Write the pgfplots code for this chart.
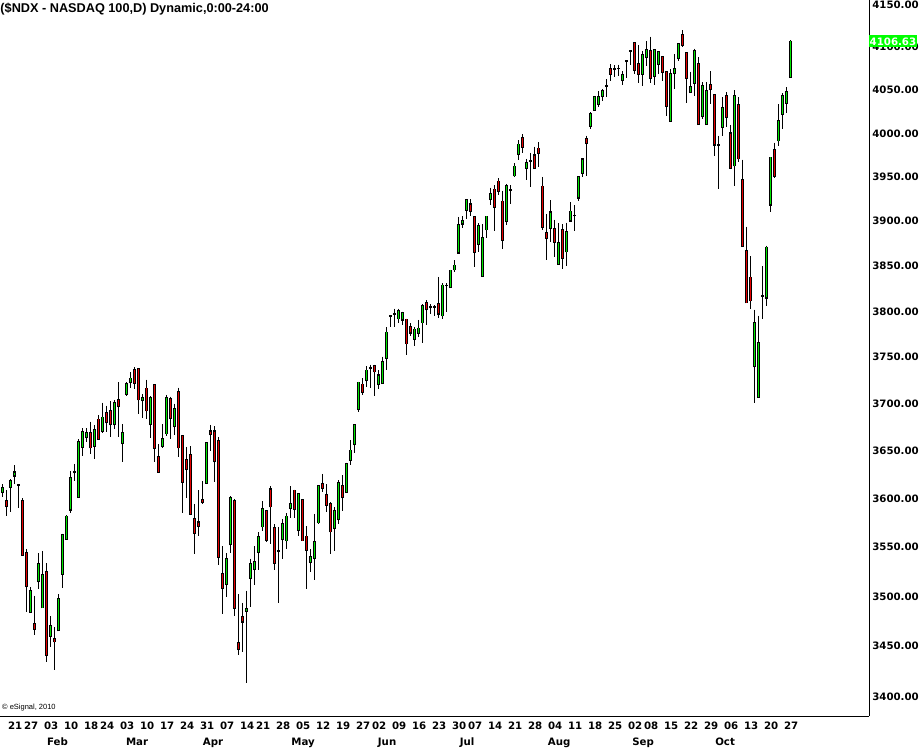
\documentclass[border=0pt]{standalone}
\usepackage{fontspec}
\setmainfont{Liberation Sans}
\newfontfamily\axisfont{DejaVu Sans}
\usepackage{pgfplots}
\usepackage{pgfplotstable}
\pgfplotsset{compat=1.18}
\definecolor{cgreen}{RGB}{0,230,0}
\definecolor{cred}{RGB}{230,0,0}
\definecolor{lblgreen}{RGB}{0,255,0}
\pgfplotstableread{
x o h l c
0 3606.5 3615.2 3601.3 3610.7
1 3597.5 3608.9 3581.3 3592.0
2 3612.4 3620.1 3586.5 3618.0
3 3623.9 3635.0 3615.2 3627.4
4 3614.2 3615.0 3590.0 3614.2
5 3597.5 3600.3 3541.0 3542.0
6 3543.7 3548.1 3483.6 3510.2
7 3484.3 3509.5 3483.3 3505.5
8 3472.3 3500.4 3461.6 3467.6
9 3515.3 3543.7 3507.8 3532.6
10 3488.6 3546.1 3488.0 3521.7
11 3524.4 3533.6 3433.8 3441.1
12 3460.6 3480.3 3449.6 3470.0
13 3457.0 3469.0 3426.6 3454.6
14 3465.6 3502.4 3465.0 3497.0
15 3523.0 3563.8 3508.8 3562.2
16 3558.7 3582.8 3558.0 3581.7
17 3588.5 3628.8 3585.4 3621.2
18 3627.4 3636.1 3618.6 3627.4
19 3601.9 3662.3 3601.3 3659.5
20 3653.9 3674.0 3644.4 3669.8
21 3664.5 3674.0 3659.2 3668.7
22 3669.0 3680.7 3646.5 3653.6
23 3655.2 3677.2 3641.3 3671.9
24 3683.2 3687.4 3661.3 3662.7
25 3670.8 3701.2 3669.0 3685.3
26 3689.9 3698.0 3669.8 3680.0
27 3692.0 3702.3 3664.8 3677.9
28 3678.0 3704.0 3673.3 3700.5
29 3703.7 3722.7 3664.8 3697.0
30 3657.8 3677.9 3638.5 3668.7
31 3710.5 3723.0 3707.7 3720.9
32 3722.7 3733.7 3716.3 3727.0
33 3735.9 3739.4 3715.8 3721.6
34 3737.0 3738.0 3688.5 3704.5
35 3703.4 3709.9 3684.9 3706.6
36 3716.3 3725.9 3683.2 3692.3
37 3678.0 3708.0 3663.1 3706.6
38 3719.8 3720.6 3637.9 3652.5
39 3643.1 3657.1 3627.0 3628.0
40 3654.6 3677.9 3653.6 3662.0
41 3668.4 3709.1 3665.9 3706.6
42 3705.3 3707.4 3662.0 3684.3
43 3675.9 3700.1 3666.9 3694.1
44 3712.0 3717.3 3643.7 3653.6
45 3665.2 3666.3 3585.4 3617.6
46 3640.0 3653.9 3600.9 3630.6
47 3645.2 3655.0 3583.0 3583.8
48 3578.6 3594.4 3543.3 3564.2
49 3575.5 3608.9 3560.7 3572.0
50 3598.5 3618.3 3594.1 3596.1
51 3616.6 3659.3 3614.9 3658.2
52 3670.5 3677.2 3650.0 3667.3
53 3670.5 3676.2 3617.6 3638.9
54 3660.2 3664.5 3532.1 3539.7
55 3522.7 3551.1 3482.6 3508.2
56 3512.2 3543.7 3499.6 3537.6
57 3552.9 3602.4 3544.3 3600.3
58 3597.5 3599.5 3480.0 3488.0
59 3453.0 3502.4 3441.1 3447.0
60 3479.3 3493.3 3444.1 3474.6
61 3485.0 3505.5 3414.1 3487.0
62 3518.3 3538.2 3489.6 3532.6
63 3527.5 3551.1 3511.5 3534.6
64 3544.7 3565.6 3526.1 3560.1
65 3571.0 3597.5 3566.9 3588.9
66 3587.5 3588.0 3555.3 3557.6
67 3609.6 3613.4 3553.5 3591.6
68 3569.4 3573.5 3526.1 3533.4
69 3546.4 3570.7 3493.3 3546.4
70 3558.0 3578.9 3538.2 3573.5
71 3557.0 3585.1 3548.4 3581.7
72 3590.6 3613.1 3580.3 3594.1
73 3608.6 3609.6 3579.3 3588.9
74 3567.3 3605.5 3560.7 3604.5
75 3598.5 3599.2 3556.5 3557.0
76 3561.1 3571.4 3506.8 3546.8
77 3534.6 3547.8 3525.0 3539.7
78 3538.6 3584.1 3516.9 3555.0
79 3575.5 3613.0 3573.5 3612.8
80 3614.9 3625.6 3606.5 3611.3
81 3603.8 3614.9 3586.5 3593.7
82 3594.1 3596.5 3543.3 3565.9
83 3569.4 3591.0 3546.4 3586.9
84 3578.6 3619.0 3573.5 3615.9
85 3612.8 3624.3 3586.9 3601.3
86 3606.5 3637.4 3606.0 3635.8
87 3640.0 3661.0 3634.7 3650.4
88 3656.8 3677.9 3647.3 3676.9
89 3693.8 3723.3 3691.3 3722.7
90 3720.6 3727.0 3709.1 3712.7
91 3724.8 3740.2 3717.9 3735.6
92 3738.4 3742.0 3716.9 3738.4
93 3740.9 3742.0 3708.4 3734.5
94 3720.6 3735.6 3715.8 3730.2
95 3721.6 3750.9 3720.9 3744.5
96 3749.1 3782.5 3736.6 3776.7
97 3794.7 3795.5 3782.8 3794.7
98 3796.9 3802.8 3783.2 3796.9
99 3791.9 3802.8 3786.8 3800.2
100 3790.8 3799.8 3785.4 3798.4
101 3790.8 3791.5 3752.8 3764.7
102 3782.8 3787.1 3772.3 3776.7
103 3769.7 3782.8 3762.1 3780.0
104 3776.3 3790.1 3771.9 3781.0
105 3787.6 3807.5 3765.4 3805.3
106 3809.4 3812.0 3784.6 3802.0
107 3803.9 3807.5 3796.6 3803.9
108 3805.0 3806.4 3795.2 3805.0
109 3807.5 3837.6 3792.2 3797.3
110 3795.5 3830.4 3791.9 3828.5
111 3828.5 3830.4 3799.1 3828.5
112 3826.0 3845.5 3824.9 3845.0
113 3845.8 3856.0 3843.1 3850.5
114 3864.7 3904.5 3864.0 3895.2
115 3897.1 3905.3 3892.6 3900.0
116 3912.9 3924.5 3901.9 3923.4
117 3918.9 3924.5 3905.6 3911.3
118 3904.5 3904.6 3848.7 3865.4
119 3874.3 3897.1 3864.7 3894.1
120 3838.7 3896.3 3838.1 3880.7
121 3890.4 3905.5 3881.0 3905.3
122 3924.9 3938.1 3918.1 3930.2
123 3935.5 3940.4 3888.8 3915.8
124 3944.9 3948.6 3929.0 3933.9
125 3922.3 3934.7 3868.1 3879.2
126 3900.0 3942.3 3895.2 3940.0
127 3934.4 3940.4 3919.7 3934.4
128 3951.7 3965.8 3949.7 3962.0
129 3976.1 3991.8 3969.7 3986.8
130 3994.8 3998.6 3977.4 3984.5
131 3960.0 3970.8 3946.0 3966.0
132 3968.1 3978.0 3938.4 3968.1
133 3974.2 3984.9 3958.6 3959.7
134 3982.3 3989.5 3961.2 3977.2
135 3939.2 3949.7 3890.4 3893.3
136 3887.0 3908.3 3856.1 3881.0
137 3892.2 3923.4 3876.6 3909.8
138 3891.5 3901.6 3859.8 3876.6
139 3852.0 3897.1 3851.3 3875.1
140 3890.4 3896.3 3846.5 3858.7
141 3865.8 3898.2 3849.8 3888.2
142 3900.8 3921.9 3899.7 3910.6
143 3906.1 3917.7 3888.8 3906.1
144 3926.4 3950.5 3922.6 3950.2
145 3954.3 3970.2 3949.7 3970.0
146 3994.0 3997.5 3951.7 3988.7
147 4008.2 4023.8 4004.4 4021.8
148 4026.4 4042.7 4025.6 4041.5
149 4033.7 4048.1 4030.3 4041.5
150 4042.1 4050.8 4037.2 4048.5
151 4054.1 4062.3 4041.3 4054.1
152 4074.0 4080.1 4060.5 4068.7
153 4074.0 4078.9 4064.6 4074.0
154 4074.9 4079.5 4066.0 4074.9
155 4061.0 4071.6 4055.8 4066.9
156 4083.3 4084.0 4064.1 4083.3
157 4095.7 4096.5 4079.3 4095.7
158 4104.5 4105.7 4068.4 4072.7
159 4079.8 4102.5 4058.3 4068.0
160 4068.7 4095.7 4054.6 4090.3
161 4087.9 4107.2 4078.1 4096.2
162 4095.0 4112.3 4057.5 4063.3
163 4065.7 4096.5 4055.5 4096.2
164 4079.8 4094.2 4068.4 4093.9
165 4088.3 4089.5 4060.5 4071.1
166 4070.4 4071.9 4019.8 4031.4
167 4014.0 4073.9 4013.3 4068.4
168 4069.2 4091.5 4050.4 4073.9
169 4086.7 4104.0 4083.5 4103.7
170 4114.4 4120.3 4100.5 4102.2
171 4092.7 4093.0 4034.9 4063.3
172 4047.0 4071.1 4045.8 4052.8
173 4057.5 4098.3 4042.7 4095.4
174 4079.8 4087.9 4009.0 4009.9
175 4019.1 4058.7 4016.4 4054.0
176 4009.9 4058.7 4009.1 4048.1
177 4055.1 4071.6 4033.0 4051.1
178 4043.5 4044.6 3974.2 3986.8
179 3986.8 3997.5 3936.2 3986.8
180 4006.4 4041.2 3997.1 4028.4
181 4042.3 4047.0 4006.4 4018.0
182 3999.4 4009.1 3960.0 3960.5
183 3962.8 4049.3 3939.6 4042.3
184 4031.9 4041.2 3966.9 3970.8
185 3946.8 3969.7 3872.0 3872.5
186 3867.0 3893.7 3809.0 3809.4
187 3837.0 3860.2 3802.8 3811.6
188 3739.9 3801.7 3701.2 3786.5
189 3707.2 3795.2 3705.5 3765.8
190 3816.7 3849.1 3791.5 3816.7
191 3814.9 3872.9 3805.7 3870.3
192 3918.5 3972.3 3910.2 3972.0
193 3981.1 3989.1 3948.6 3950.9
194 3991.4 4033.0 3985.7 4013.3
195 4021.5 4045.8 4004.8 4042.3
196 4034.2 4052.8 4022.6 4047.0
197 4064.5 4108.4 4064.0 4106.63
}\data
% build candle segment lists from the table (x = nan separates the candles)
\def\wickpath{}\def\outpath{}\def\uppath{}\def\dnpath{}
\pgfplotsforeachungrouped \i in {0,...,197}{%
  \pgfplotstablegetelem{\i}{o}\of\data \let\vo\pgfplotsretval
  \pgfplotstablegetelem{\i}{h}\of\data \let\vh\pgfplotsretval
  \pgfplotstablegetelem{\i}{l}\of\data \let\vl\pgfplotsretval
  \pgfplotstablegetelem{\i}{c}\of\data \let\vc\pgfplotsretval
  \pgfmathsetmacro\vlo{min(\vo,\vc)/1.00026}%
  \pgfmathsetmacro\vhi{max(\vo,\vc)*1.00026}%
  \xdef\wickpath{\wickpath (\i,\vh) (\i,\vl) (nan,\vl)}%
  \xdef\outpath{\outpath (\i,\vlo) (\i,\vhi) (nan,\vhi)}%
  \ifdim\vc pt>\vo pt \xdef\uppath{\uppath (\i,\vo) (\i,\vc) (nan,\vc)}\fi
  \ifdim\vc pt<\vo pt \xdef\dnpath{\dnpath (\i,\vc) (\i,\vo) (nan,\vo)}\fi
}
\begin{document}
\begin{tikzpicture}
\useasboundingbox (0,0) rectangle (921pt,-750pt);
\begin{axis}[
  at={(0pt,0pt)}, anchor=north west,
  scale only axis, width=869pt, height=716pt,
  xmin=-0.575, xmax=216.675,
  y coord trafo/.code={\pgfmathparse{ln(#1)}},
  y coord inv trafo/.code={\pgfmathparse{exp(#1)}},
  ymin=3381.4, ymax=4156,
  clip=false,
  unbounded coords=jump,
  axis x line=bottom, axis y line=right,
  axis line style={-, black, line width=1pt},
  tick style={draw=none},
  ytick={3400,3450,3500,3550,3600,3650,3700,3750,3800,3850,3900,3950,4000,4050,4100,4150},
  yticklabels={3400.00,3450.00,3500.00,3550.00,3600.00,3650.00,3700.00,3750.00,3800.00,3850.00,3900.00,3950.00,4000.00,4050.00,4100.00,4150.00},
  yticklabel style={anchor=west, inner sep=0pt, xshift=1pt, font=\axisfont\bfseries\fontsize{10.2}{12}\selectfont},
  xtick={3,7,12,17,22,26,31,36,41,46,51,56,61,65,70,75,80,85,90,94,99,104,109,114,118,123,128,133,138,143,148,153,158,162,167,172,177,182,187,192,197},
  xticklabels={21,27,03,10,18,24,03,10,17,24,31,07,14,21,28,05,12,19,27,02,09,16,23,30,07,14,21,28,04,11,18,25,02,08,15,22,29,06,13,20,27},
  xticklabel style={anchor=base, inner sep=0pt, yshift=-11.8pt, xshift=0.8pt, font=\axisfont\bfseries\fontsize{10.2}{12}\selectfont},
  extra x ticks={13.8,33.7,52.7,75.2,96.2,116.2,139.2,160.2,180.7},
  extra x tick labels={Feb,Mar,Apr,May,Jun,Jul,Aug,Sep,Oct},
  extra x tick style={xticklabel style={yshift=-15.7pt, xshift=-0.8pt}},
]
\edef\tmp{\noexpand\addplot[black, line width=1pt, forget plot] coordinates {\wickpath};}\tmp
\edef\tmp{\noexpand\addplot[black, line width=3.3pt, forget plot] coordinates {\outpath};}\tmp
\edef\tmp{\noexpand\addplot[cgreen, line width=1.3pt, forget plot] coordinates {\uppath};}\tmp
\edef\tmp{\noexpand\addplot[cred, line width=1.3pt, forget plot] coordinates {\dnpath};}\tmp
\node[anchor=west, fill=lblgreen, text=white, inner xsep=0.5pt, inner ysep=0pt, minimum height=12pt,
  font=\axisfont\bfseries\fontsize{10.2}{12}\selectfont] at (axis cs:216.675,4106.63) {4106.63};
\end{axis}
\node[anchor=base west, inner sep=0pt, font=\bfseries\fontsize{12.7}{14}\selectfont] at (0.3pt,-12pt) {(\$NDX - NASDAQ 100,D) Dynamic,0:00-24:00};
\node[anchor=base west, inner sep=0pt, font=\fontsize{7.5}{8}\selectfont] at (2pt,-709.5pt) {\textcopyright\ eSignal, 2010};
\end{tikzpicture}
\end{document}
